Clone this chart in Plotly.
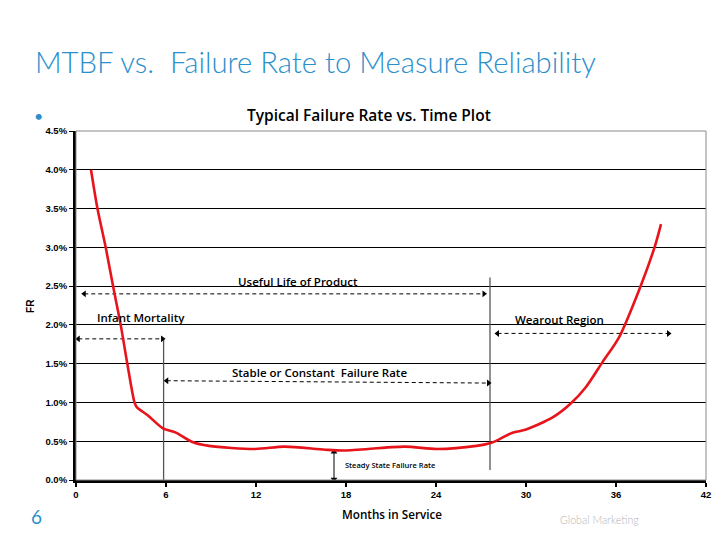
import plotly.graph_objects as go

# ---- data ----
months = [1.0, 1.43, 1.98, 2.47, 2.98, 3.42, 3.9, 4.05, 4.78, 5.77, 6.66, 7.76, 8.86,
          11.95, 13.9, 16.6, 17.9, 21.9, 24.07, 26.7, 27.7, 29.1, 30.0, 31.8, 33.0,
          34.0, 35.1, 36.2, 37.6, 38.6, 39.0]
fr_pct = [4.0, 3.5, 3.0, 2.5, 2.0, 1.5, 1.0, 0.94, 0.835, 0.67, 0.61, 0.49, 0.44,
          0.40, 0.43, 0.39, 0.38, 0.43, 0.40, 0.44, 0.48, 0.61, 0.65, 0.81, 0.99,
          1.2, 1.52, 1.84, 2.48, 3.02, 3.30]
fr = [v / 100 for v in fr_pct]

x_ticks = [0, 6, 12, 18, 24, 30, 36, 42]

# region markers (months, rate)
useful_life = ([0.55, 27.2], [0.024, 0.024])
infant = ([0.15, 5.77], [0.0182, 0.0182])
stable = ([6.05, 27.5], [0.0128, 0.0125])
wearout = ([28.1, 39.5], [0.0189, 0.0189])
steady = ([17.2, 17.2], [0.0036, 0.0001])
infant_edge = ([5.84, 5.84], [0.0182, 0.0])
wearout_edge = ([27.6, 27.6], [0.0261, 0.0013])

BLUE = "#2a8fcb"
ANN_FONT = "Open Sans"

fig = go.Figure()

# vertical boundary lines
for xs, ys in (infant_edge, wearout_edge):
    fig.add_trace(go.Scatter(x=xs, y=ys, mode="lines",
                             line=dict(color="#555555", width=1.3),
                             hoverinfo="skip", showlegend=False))

# dashed double arrows
for xs, ys in (useful_life, infant, stable, wearout):
    fig.add_trace(go.Scatter(x=xs, y=ys, mode="lines+markers",
                             line=dict(color="black", width=1, dash="4px,3px"),
                             marker=dict(symbol=["triangle-left", "triangle-right"],
                                         size=6, color="black"),
                             hoverinfo="skip", showlegend=False))

# steady state arrow
fig.add_trace(go.Scatter(x=steady[0], y=steady[1], mode="lines+markers",
                         line=dict(color="black", width=1),
                         marker=dict(symbol=["triangle-up", "triangle-down"],
                                     size=6, color="black"),
                         hoverinfo="skip", showlegend=False))

# failure-rate curve
fig.add_trace(go.Scatter(x=months, y=fr, mode="lines",
                         line=dict(color="#e8141c", width=2.6, shape="spline", smoothing=0.8),
                         showlegend=False))

annotations = [
    dict(text="MTBF vs.  Failure Rate to Measure Reliability", xref="paper", yref="paper",
         x=-0.068, y=1.198, xanchor="left", yanchor="middle", showarrow=False,
         font=dict(family="Lato", size=29.3, color=BLUE, weight=300)),
    dict(text="•", xref="paper", yref="paper", x=-0.059, y=1.045, xanchor="center",
         yanchor="middle", showarrow=False, font=dict(family="Lato", size=16, color=BLUE)),
    dict(text="Typical Failure Rate vs. Time Plot", xref="paper", yref="paper",
         x=0.4657, y=1.046, xanchor="center", yanchor="middle", showarrow=False,
         font=dict(family=ANN_FONT, size=15.5, color="black", weight=600)),
    dict(text="FR", xref="paper", yref="paper", x=-0.0724, y=0.50, textangle=-90,
         xanchor="center", yanchor="middle", showarrow=False,
         font=dict(family="Liberation Sans", size=10, color="black", weight="bold")),
    dict(text="Months in Service", xref="paper", yref="paper", x=0.5016, y=-0.0974,
         xanchor="center", yanchor="middle", showarrow=False,
         font=dict(family=ANN_FONT, size=11.7, color="black", weight=600)),
    dict(text="6", xref="paper", yref="paper", x=-0.062, y=-0.106, xanchor="center",
         yanchor="middle", showarrow=False, font=dict(family="Lato", size=19, color=BLUE)),
    dict(text="Global Marketing", xref="paper", yref="paper", x=0.8315, y=-0.1126,
         xanchor="center", yanchor="middle", showarrow=False,
         font=dict(family="Lato", size=10.7, color="#b4b4b4", weight=300)),
    dict(text="Useful Life of Product", x=14.8, y=0.0256, xanchor="center", yanchor="middle",
         showarrow=False, font=dict(family=ANN_FONT, size=11.5, color="black", weight=600)),
    dict(text="Infant Mortality", x=4.3, y=0.0210, xanchor="center", yanchor="middle",
         showarrow=False, font=dict(family=ANN_FONT, size=11.5, color="black", weight=600)),
    dict(text="Stable or Constant  Failure Rate", x=16.25, y=0.0138, xanchor="center",
         yanchor="middle", showarrow=False,
         font=dict(family=ANN_FONT, size=11.5, color="black", weight=600)),
    dict(text="Wearout Region", x=32.2, y=0.0207, xanchor="center", yanchor="middle",
         showarrow=False, font=dict(family=ANN_FONT, size=11.5, color="black", weight=600)),
    dict(text="Steady State Failure Rate", x=17.8, y=0.0019, xanchor="left", yanchor="middle",
         showarrow=False, font=dict(family=ANN_FONT, size=7.5, color="black", weight=600)),
]

# page body has an 8px margin: size the figure so the plot area lands where the reference has it
fig.update_layout(
    width=712, height=530,
    margin=dict(l=68, r=9, t=123, b=58),
    paper_bgcolor="white", plot_bgcolor="white",
    annotations=annotations,
    shapes=[dict(type="rect", xref="paper", yref="paper", x0=0, x1=1, y0=0, y1=1,
                 line=dict(color="#8a8a8a", width=1), layer="above")],
    xaxis=dict(range=[0, 42], tickvals=x_ticks, showgrid=False, zeroline=False,
               showline=True, linecolor="black", linewidth=3,
               ticks="outside", ticklen=4, tickwidth=2, tickcolor="black",
               tickfont=dict(family="Liberation Sans", size=9.5, color="black", weight="bold")),
    yaxis=dict(range=[0, 0.045], dtick=0.005, tickformat=".1%", showgrid=True,
               gridcolor="black", gridwidth=1, zeroline=False,
               showline=True, linecolor="black", linewidth=3,
               ticks="outside", ticklen=4, tickwidth=1, tickcolor="black",
               tickfont=dict(family="Liberation Sans", size=9.5, color="black", weight="bold")),
)

fig.write_html("out.html")
